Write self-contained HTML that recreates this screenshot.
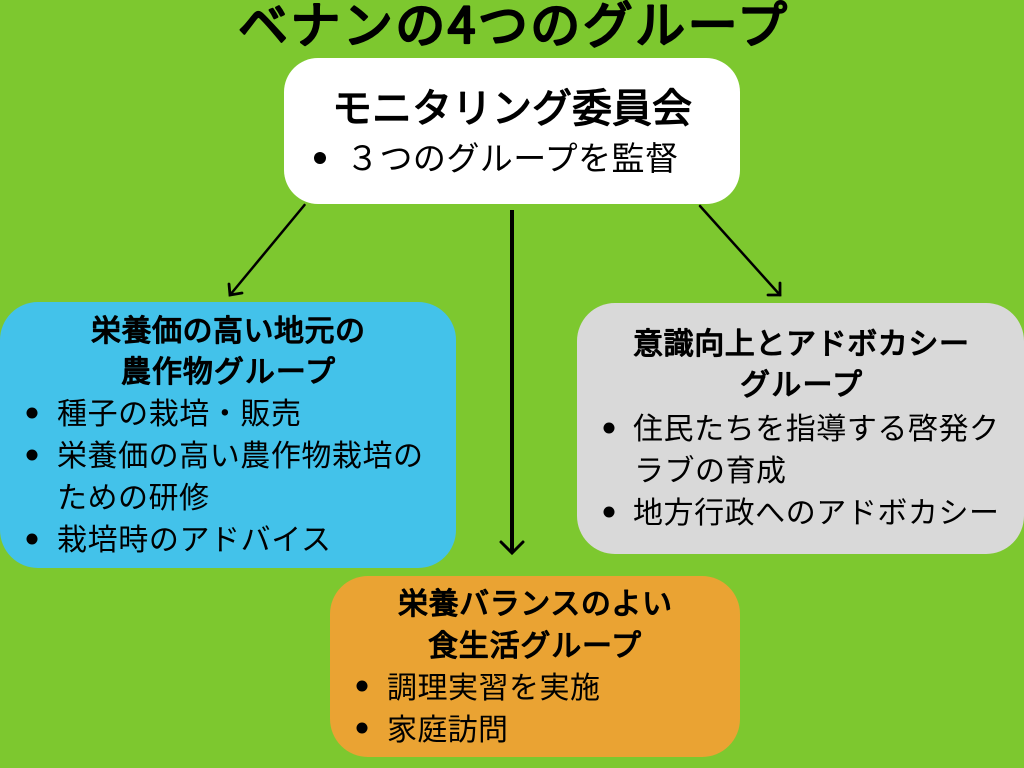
<!DOCTYPE html>
<html lang="ja"><head><meta charset="utf-8"><style>
html,body{margin:0;padding:0;background:#7dc82f}
svg{display:block}
text{font-family:"Liberation Sans","WenQuanYi Zen Hei","Noto Sans CJK JP",sans-serif;fill:#000}
.h{font-family:"WenQuanYi Zen Hei","Noto Sans CJK JP",sans-serif;font-weight:400;stroke:#000;stroke-width:1.300;stroke-linejoin:round}
.t{font-family:"WenQuanYi Zen Hei","Noto Sans CJK JP",sans-serif;font-weight:400;stroke:#000;stroke-width:2.300;stroke-linejoin:round}
.b{font-family:"WenQuanYi Zen Hei","Noto Sans CJK JP",sans-serif;font-weight:400}
</style></head><body>
<svg width="1024" height="768" viewBox="0 0 1024 768" xmlns="http://www.w3.org/2000/svg">
<rect width="1024" height="768" fill="#7dc82f"/>
<rect x="284" y="58" width="456" height="146" rx="34" fill="#fff"/>
<rect x="0" y="302" width="456" height="266" rx="38" fill="#43c2ea"/>
<rect x="577" y="303" width="447" height="251" rx="38" fill="#d9d9d9"/>
<rect x="330" y="576" width="410" height="181" rx="38" fill="#eaa333"/>

<g stroke="#000" fill="none" stroke-linecap="round">
<path d="M304.500 205 L230 295" stroke-width="2.500"/><path d="M229 284 L230 295 L242 293" stroke-width="2.800"/>
<path d="M700 206 L780 295" stroke-width="2.500"/><path d="M768 295 L780 295 L780 283" stroke-width="2.800"/>
<path d="M512 210 L512 552" stroke-width="4" stroke-linecap="butt"/><path d="M501 542 L512 553 L523 542" stroke-width="3"/>
</g>

<text class="t" x="238" y="43" font-size="50" textLength="549">ベナンの4つのグループ</text>
<text class="h" x="332" y="122" font-size="40" textLength="360">モニタリング委員会</text>
<circle cx="320" cy="158" r="6"/>
<text class="b" x="346" y="170" font-size="33" textLength="332">３つのグループを監督</text>

<text class="h" x="91" y="341" font-size="30" textLength="274">栄養価の高い地元の</text>
<text class="h" x="121" y="382" font-size="30" textLength="214">農作物グループ</text>
<circle cx="32" cy="413" r="5.500"/>
<text class="b" x="57" y="424" font-size="30" textLength="244">種子の栽培・販売</text>
<circle cx="32" cy="455" r="5.500"/>
<text class="b" x="57" y="466" font-size="30" textLength="366">栄養価の高い農作物栽培の</text>
<text class="b" x="57" y="508" font-size="30" textLength="152">ための研修</text>
<circle cx="32" cy="539" r="5.500"/>
<text class="b" x="57" y="550" font-size="30" textLength="274">栽培時のアドバイス</text>

<text class="h" x="633" y="354" font-size="30" textLength="336">意識向上とアドボカシー</text>
<text class="h" x="740" y="395" font-size="30" textLength="122">グループ</text>
<circle cx="609" cy="428" r="5.500"/>
<text class="b" x="633" y="439" font-size="30" textLength="366">住民たちを指導する啓発ク</text>
<text class="b" x="634" y="481" font-size="30" textLength="152">ラブの育成</text>
<circle cx="609" cy="512" r="5.500"/>
<text class="b" x="633" y="523" font-size="30" textLength="366">地方行政へのアドボカシー</text>

<text class="h" x="398" y="614" font-size="30" textLength="274">栄養バランスのよい</text>
<text class="h" x="428" y="656" font-size="30" textLength="213">食生活グループ</text>
<circle cx="362" cy="686" r="5.500"/>
<text class="b" x="387" y="698" font-size="30" textLength="213">調理実習を実施</text>
<circle cx="362" cy="728" r="5.500"/>
<text class="b" x="387" y="740" font-size="30" textLength="121">家庭訪問</text>
</svg>
</body></html>
